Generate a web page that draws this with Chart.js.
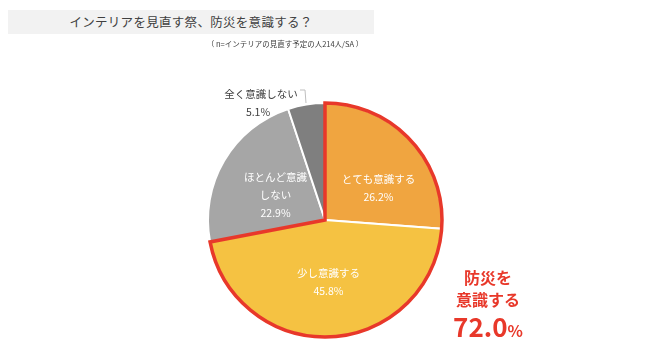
<!DOCTYPE html>
<html>
<head>
<meta charset="utf-8">
<script src="https://cdn.jsdelivr.net/npm/chart.js@4"></script>
<style>
  html, body { margin: 0; padding: 0; background: #fff; }
  #wrap { position: relative; width: 650px; height: 356px; }
  #titel {
    position: absolute; left: 8px; top: 10px; width: 366px; height: 24px;
    background: #f2f2f2; color: #404040; text-align: center;
    font: 12.5px "Noto Sans CJK JP", sans-serif; line-height: 24px; letter-spacing: 0.3px;
  }
  #sub {
    position: absolute; left: 200px; top: 38px; width: 170px; text-align: center;
    font: 7.5px "Noto Sans CJK JP", sans-serif; color: #404040;
  }
  #summe {
    position: absolute; left: 428px; top: 266px; width: 120px; text-align: center;
    color: #e8382a; font: bold 16px "Noto Sans CJK JP", sans-serif; line-height: 22px;
  }
  #summe .zahl { font-size: 26px; line-height: 32px; }
  #summe .proz { font-size: 16px; }
</style>
</head>
<body>
<div id="wrap">
  <canvas id="kreis" width="650" height="356"></canvas>
  <div id="titel">インテリアを見直す祭、防災を意識する？</div>
  <div id="sub">（ n=インテリアの見直す予定の人214人/SA ）</div>
  <div id="summe">防災を<br>意識する<br><span class="zahl">72.0</span><span class="proz">%</span></div>
</div>
<script>
const kategorien = ["とても意識する", "少し意識する", "ほとんど意識しない", "全く意識しない"];
const beschriftung = [["とても意識する"], ["少し意識する"], ["ほとんど意識", "しない"], ["全く意識しない"]];
const werte = [26.2, 45.8, 22.9, 5.1];
const farben = ["#f0a540", "#f5c242", "#a6a6a6", "#7f7f7f"];
const markiert = [0, 1];

// Labels in den Segmenten, Segment 3 außen mit Linie
const labelPlugin = {
    id: "labels",
    afterDatasetsDraw(chart) {
        const ctx = chart.ctx;
        const meta = chart.getDatasetMeta(0);

        // rote Umrandung um "意識する" (Segment 0 + 1)
        const a = meta.data[markiert[0]];
        const b = meta.data[markiert[markiert.length - 1]];
        ctx.save();
        ctx.strokeStyle = "#e8382a";
        ctx.lineWidth = 3.5;
        ctx.lineJoin = "miter";
        ctx.beginPath();
        ctx.moveTo(a.x, a.y);
        ctx.arc(a.x, a.y, a.outerRadius, a.startAngle, b.endAngle);
        ctx.closePath();
        ctx.stroke();
        ctx.restore();

        const nudge = [[8, 10], [0, 0], [4, 6], [0, 0]];
        ctx.save();
        ctx.textAlign = "center";
        ctx.textBaseline = "middle";
        ctx.font = "10.5px 'Noto Sans CJK JP', sans-serif";
        meta.data.forEach((arc, i) => {
            const mitte = (arc.startAngle + arc.endAngle) / 2;
            const zeilen = beschriftung[i].concat([werte[i].toFixed(1) + "%"]);
            if (i === 3) {
                ctx.fillStyle = "#404040";
                const x = arc.x - 64, y = arc.y - arc.outerRadius - 9;
                ctx.fillText(zeilen[0], x, y);
                ctx.fillText(zeilen[1], x - 3, y + 18);
                ctx.strokeStyle = "#bfbfbf";
                ctx.lineWidth = 1;
                ctx.beginPath();
                ctx.moveTo(x + 39, y - 4);
                ctx.lineTo(x + 44, y - 4);
                ctx.lineTo(x + 45, y + 9);
                ctx.stroke();
                return;
            }
            const r = arc.outerRadius * 0.53;
            const cx = arc.x + Math.cos(mitte) * r + nudge[i][0];
            const cy = arc.y + Math.sin(mitte) * r + nudge[i][1];
            ctx.fillStyle = "#ffffff";
            const h = 18;
            const y0 = cy - (zeilen.length - 1) * h / 2;
            zeilen.forEach((t, j) => ctx.fillText(t, cx, y0 + j * h));
        });
        ctx.restore();
    },
};

new Chart(document.getElementById("kreis"), {
    type: "pie",
    data: {
        labels: kategorien,
        datasets: [
            {
                data: werte,
                backgroundColor: farben,
                borderColor: "#ffffff",
                borderWidth: 2,
                hoverOffset: 0,
            },
        ],
    },
    options: {
        responsive: false,
        animation: false,
        radius: 117,
        layout: { padding: { left: 208, right: 208, top: 103, bottom: 19 } },
        plugins: {
            legend: { display: false },
            tooltip: { enabled: false },
        },
    },
    plugins: [labelPlugin],
});
</script>
</body>
</html>
